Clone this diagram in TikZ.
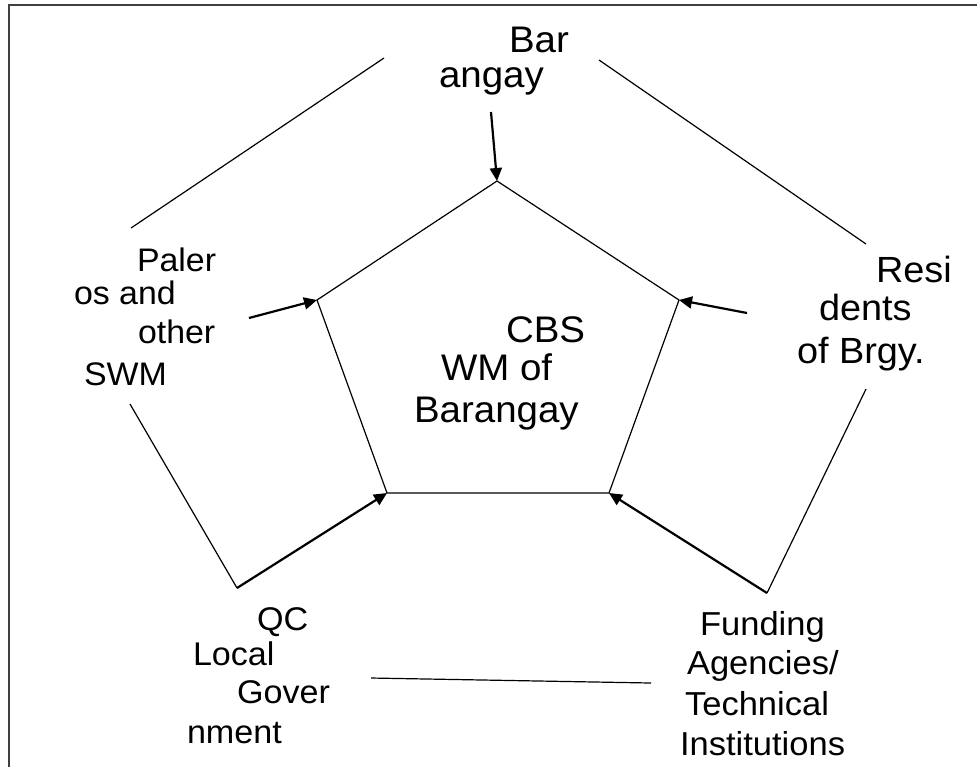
\documentclass[tikz,border=0pt]{standalone}
\usepackage{fontspec}
\setmainfont{Liberation Sans}
\newfontfamily\lblfont[FakeStretch=1.04]{Liberation Sans}
\usetikzlibrary{arrows.meta}
\begin{document}
\begin{tikzpicture}[x=0.5pt,y=-0.5pt,
  thinline/.style={line width=0.6pt},
  arrowline/.style={line width=1.1pt,-{Triangle[length=6.5pt,width=6pt]}},
  lbl/.style={anchor=base west,inner sep=0pt,outer sep=0pt,font=\lblfont\fontsize{#1}{#1}\selectfont},
  frameline/.style={line width=0.8pt,draw=black!75}]
\useasboundingbox (0,0) rectangle (977,767);
% frame
\coordinate (F1) at (9,767);
\coordinate (F2) at (9,5);
\coordinate (F3) at (977,5);
\draw[frameline] (F1) -- (F2) -- (F3);
% pentagon vertices
\coordinate (P1) at (497,181);
\coordinate (P2) at (679,300);
\coordinate (P3) at (609,493);
\coordinate (P4) at (387,493);
\coordinate (P5) at (317,300);
\draw[thinline] (P1) -- (P2) -- (P3) -- (P4) -- (P5) -- cycle;
% outer lines
\coordinate (A1) at (384,58);
\coordinate (A2) at (131,228);
\coordinate (A3) at (599,60);
\coordinate (A4) at (866,244);
\coordinate (A5) at (130,404);
\coordinate (A6) at (237,588);
\coordinate (A7) at (866,389);
\coordinate (A8) at (767,593);
\coordinate (A9) at (371,678);
\coordinate (A10) at (651,683);
\draw[thinline] (A1) -- (A2);
\draw[thinline] (A3) -- (A4);
\draw[thinline] (A5) -- (A6);
\draw[thinline] (A7) -- (A8);
\draw[thinline] (A9) -- (A10);
% arrows
\coordinate (S1) at (491,112);
\coordinate (S2) at (249,318);
\coordinate (S3) at (747,313);
\draw[arrowline] (S1) -- (P1);
\draw[arrowline] (S2) -- (P5);
\draw[arrowline] (S3) -- (P2);
\draw[arrowline] (A6) -- (P4);
\draw[arrowline] (A8) -- (P3);
% labels
\node[lbl=18.5] (b1) at (509,52) {Bar};
\node[lbl=18.5] (b2) at (439,87) {angay};
\node[lbl=16.3] (p1) at (137,271) {Paler};
\node[lbl=16.3] (p2) at (74,304) {os and};
\node[lbl=16.3] (p3) at (138,343) {other};
\node[lbl=16.3] (p4) at (84,385) {SWM};
\node[lbl=18.2] (r1) at (876,282) {Resi};
\node[lbl=18.2] (r2) at (819,320) {dents};
\node[lbl=18.2] (r3) at (797,363) {of Brgy.};
\node[lbl=18.5] (c1) at (506,342) {CBS};
\node[lbl=18.5] (c2) at (441,380) {WM of};
\node[lbl=18.5] (c3) at (414,422) {Barangay};
\node[lbl=16.4] (q1) at (257,630) {QC};
\node[lbl=16.4] (q2) at (193,665) {Local};
\node[lbl=16.4] (q3) at (237,703) {Gover};
\node[lbl=16.4] (q4) at (187,743) {nment};
\node[lbl=16.6] (f1) at (700,635) {Funding};
\node[lbl=16.6] (f2) at (687,674) {Agencies/};
\node[lbl=16.6] (f3) at (685,715) {Technical};
\node[lbl=16.6] (f4) at (680,755) {Institutions};
\end{tikzpicture}
\end{document}
